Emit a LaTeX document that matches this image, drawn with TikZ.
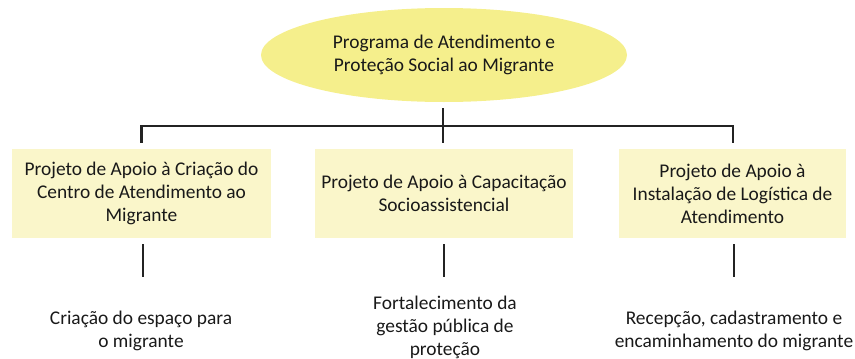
\documentclass[tikz,border=0pt]{standalone}
\usepackage{fontspec}
\setmainfont{Carlito}
\usetikzlibrary{shapes.geometric}
\definecolor{ellfill}{RGB}{245,239,140}
\definecolor{boxfill}{RGB}{250,246,202}
\definecolor{linecol}{RGB}{35,35,35}
\definecolor{txt}{RGB}{25,25,25}
\tikzset{
  every node/.style={text=txt, font=\fontsize{19.4}{23}\selectfont, align=center},
  topell/.style={ellipse, fill=ellfill, minimum width=366pt, minimum height=94pt, inner sep=0pt},
  projbox/.style={fill=boxfill, minimum height=89pt, inner sep=0pt},
  conn/.style={draw=linecol, line width=2.6pt},
}
\begin{document}
\begin{tikzpicture}[x=1pt,y=1pt]
\useasboundingbox (0,0) rectangle (855,-359);
\node[topell] (prog) at (444,-55) {Programa de Atendimento e\\Proteção Social ao Migrante};
\node[projbox, minimum width=259pt] (b1) at (141.5,-193.5) {Projeto de Apoio à Criação do\\Centro de Atendimento ao\\Migrante};
\node[projbox, minimum width=258pt] (b2) at (444,-193.5) {Projeto de Apoio à Capacitação\\Socioassistencial};
\node[projbox, minimum width=227pt] (b3) at (732.5,-193.5) {Projeto de Apoio à\\Instalação de Logística de\\Atendimento};
\node (r1) at (141,-331) {Criação do espaço para\\o migrante};
\node (r2) at (445,-327) {Fortalecimento da\\gestão pública de\\proteção};
\node (r3) at (734,-331) {Recepção, cadastramento e\\encaminhamento do migrante};
\coordinate (hubtop) at ([xshift=-1pt,yshift=-6pt]prog.south);
\coordinate (hubbot) at ([xshift=-1pt,yshift=6pt]b2.north);
\coordinate (bl) at (141.5,-126);
\coordinate (br) at (733,-126);
\coordinate (blend) at ([yshift=6pt]b1.north);
\coordinate (brend) at ([xshift=0.5pt,yshift=6pt]b3.north);
\draw[conn] (hubtop) -- (hubbot);
\draw[conn] (blend) -- (bl) -- (br) -- (brend);
\draw[conn] ([xshift=1.5pt,yshift=-6pt]b1.south) -- ++(0,-33);
\draw[conn] ([yshift=-6pt]b2.south) -- ++(0,-33);
\draw[conn] ([xshift=1.5pt,yshift=-6pt]b3.south) -- ++(0,-33);
\end{tikzpicture}
\end{document}
